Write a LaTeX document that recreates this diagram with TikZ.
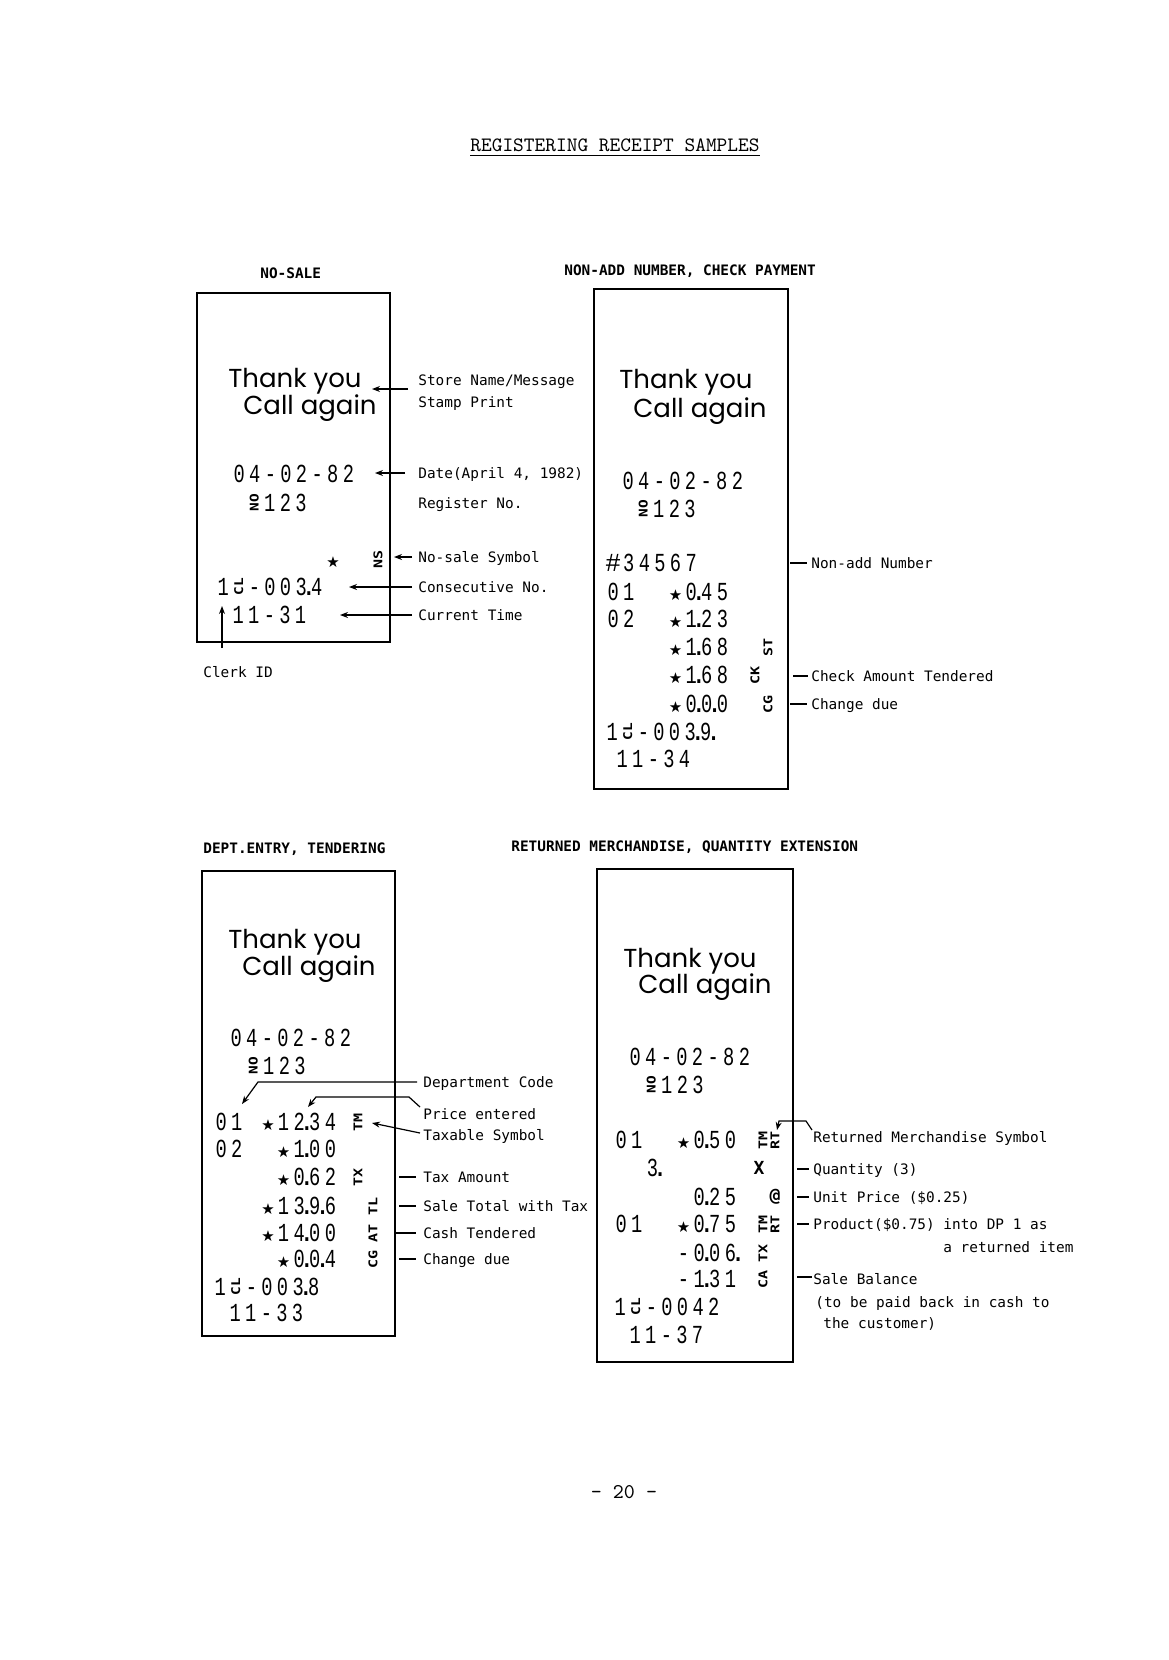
\documentclass[tikz,border=0pt]{standalone}
\usepackage{fontspec}
\usepackage{graphicx}
\usetikzlibrary{arrows.meta}
\newfontfamily\lblfont{DejaVu Sans Mono}
\newfontfamily\rcptfont{Liberation Mono}
\newfontfamily\symfont{DejaVu Sans}
\newfontfamily\greetfont{Poppins}
\newcommand\rstar{\makebox[7.8pt]{\symfont\fontsize{7.5}{8}\selectfont ★}}
\newcommand\dt{\makebox[0pt]{.}}
\newcommand\sk{\hspace*{7.8pt}}
\newcommand\rsym[1]{\makebox[7.8pt]{\rotatebox{90}{\scalebox{1.2}[1]{\lblfont\bfseries\fontsize{6}{6}\selectfont #1}}}}
\newcommand\symNO{\rsym{NO}}
\newcommand\symCL{\rsym{CL}}
\newcommand\rs[1]{\scalebox{1.25}[1]{#1}}
% one fixed cell per character, glyphs condensed
\def\rcells#1{\rcellsA#1\relax}
\def\rcellsA#1{\ifx\relax#1\else\rcellsB{#1}\expandafter\rcellsA\fi}
\def\rcellsB#1{\ifcat\relax\noexpand#1#1\else\makebox[7.8pt]{\scalebox{0.72}[1]{#1}}\fi}
\tikzset{
  boxline/.style={line width=1pt},
  lbl/.style={font=\lblfont\fontsize{7.2}{8}\selectfont, anchor=west, inner sep=0, text height=5.2pt, text depth=0pt},
  hdg/.style={font=\lblfont\bfseries\fontsize{7.2}{8}\selectfont, anchor=west, inner sep=0, text height=5.2pt, text depth=0pt},
  rrow/.style={font=\rcptfont\fontsize{13}{13}\selectfont, anchor=west, inner sep=0, text height=8.6pt, text depth=0pt},
  greet/.style={font=\greetfont\fontsize{13}{13}\selectfont, anchor=base west, inner sep=0},
  rsy/.style={font=\lblfont\bfseries\fontsize{6}{6}\selectfont, rotate=90, inner sep=0, anchor=center},
  usy/.style={font=\lblfont\bfseries\fontsize{9}{9}\selectfont, inner sep=0, anchor=center},
  conn/.style={line width=0.6pt},
  arr/.style={conn, -{Stealth[length=4pt,width=3pt]}},
}
\begin{document}
\begin{tikzpicture}[x=0.5pt,y=-0.5pt]
\fill[white] (0,0) rectangle (1168,1660);
\useasboundingbox (0,0) rectangle (1168,1660);

% title
\node[font=\ttfamily\fontsize{10.2}{12}\selectfont, anchor=base west, inner sep=0] (ttl) at (470,151) {REGISTERING RECEIPT SAMPLES};
\draw[line width=0.8pt] ([yshift=-2.2pt]ttl.base west) -- ([yshift=-2.2pt]ttl.base east);

% headings
\node[hdg] (h1) at (260,273) {NO-SALE};
\node[hdg] (h2) at (564,270) {NON-ADD NUMBER, CHECK PAYMENT};
\node[hdg] (h3) at (203,848) {DEPT.ENTRY, TENDERING};
\node[hdg] (h4) at (511,846) {RETURNED MERCHANDISE, QUANTITY EXTENSION};

% ---------------- receipt 1
\draw[boxline] (197,293) rectangle (390,642);
\node[greet] (r1ty) at (228,387) {Thank you};
\node[greet] (r1ca) at (243,414) {Call again};
\node[rrow] (r1date) at (231,474) {\rcells{04-02-82}};
\node[rrow] (r1reg) at (246,503) {\rcells{\symNO123}};
\node[rrow] (r1star) at (325,559) {\rstar};
\node[rsy] (r1ns) at (378,559) {\rs{NS}};
\node[rrow] (r1cons) at (215,587) {\rcells{1\symCL-003\dt4}};
\node[rrow] (r1time) at (230,615) {\rcells{11-31}};

\node[lbl] (l1a) at (418,380) {Store Name/Message};
\node[lbl] (l1b) at (418,402) {Stamp Print};
\node[lbl] (l1c) at (418,473) {Date(April 4, 1982)};
\node[lbl] (l1d) at (418,503) {Register No.};
\node[lbl] (l1e) at (418,557) {No-sale Symbol};
\node[lbl] (l1f) at (418,587) {Consecutive No.};
\node[lbl] (l1g) at (418,615) {Current Time};
\node[lbl] (l1h) at (203,672) {Clerk ID};

\coordinate (a1s) at (408,389); \coordinate (a1t) at (372,389);
\coordinate (a2s) at (405,473); \coordinate (a2t) at (375,473);
\coordinate (a3s) at (412,557); \coordinate (a3t) at (394,557);
\coordinate (a4s) at (412,587); \coordinate (a4t) at (349,587);
\coordinate (a5s) at (412,615); \coordinate (a5t) at (340,615);
\coordinate (a6s) at (222,648); \coordinate (a6t) at (222,606);
\draw[arr] (a1s) -- (a1t);
\draw[arr] (a2s) -- (a2t);
\draw[arr] (a3s) -- (a3t);
\draw[arr] (a4s) -- (a4t);
\draw[arr] (a5s) -- (a5t);
\draw[arr] (a6s) -- (a6t);

% ---------------- receipt 2
\draw[boxline] (594,289) rectangle (788,789);
\node[greet] (r2ty) at (619,388) {Thank you};
\node[greet] (r2ca) at (633,417) {Call again};
\node[rrow] (r2date) at (620,481) {\rcells{04-02-82}};
\node[rrow] (r2reg) at (635,509) {\rcells{\symNO123}};
\node[rrow] (r2num) at (605,563) {\rcells{\#34567}};
\node[rrow] (r2a) at (605,592) {\rcells{01\sk\sk\rstar0\dt45}};
\node[rrow] (r2b) at (605,619) {\rcells{02\sk\sk\rstar1\dt23}};
\node[rrow] (r2c) at (605,647) {\rcells{\sk\sk\sk\sk\rstar1\dt68}};
\node[rrow] (r2d) at (605,675) {\rcells{\sk\sk\sk\sk\rstar1\dt68}};
\node[rrow] (r2e) at (605,704) {\rcells{\sk\sk\sk\sk\rstar0\dt0\dt0}};
\node[rsy] (r2st) at (768,647) {\rs{ST}};
\node[rsy] (r2ck) at (755,675) {\rs{CK}};
\node[rsy] (r2cg) at (768,704) {\rs{CG}};
\node[rrow] (r2cons) at (604,732) {\rcells{1\symCL-003\dt9\dt}};
\node[rrow] (r2time) at (614,759) {\rcells{11-34}};

\node[lbl] (l2a) at (811,563) {Non-add Number};
\node[lbl] (l2b) at (811,676) {Check Amount Tendered};
\node[lbl] (l2c) at (811,704) {Change due};
\coordinate (b1s) at (790,563); \coordinate (b1t) at (807,563);
\coordinate (b2s) at (793,676); \coordinate (b2t) at (808,676);
\coordinate (b3s) at (790,704); \coordinate (b3t) at (807,704);
\draw[conn] (b1s) -- (b1t);
\draw[conn] (b2s) -- (b2t);
\draw[conn] (b3s) -- (b3t);

% ---------------- receipt 3
\draw[boxline] (202,871) rectangle (395,1336);
\node[greet] (r3ty) at (228,948) {Thank you};
\node[greet] (r3ca) at (242,975) {Call again};
\node[rrow] (r3date) at (228,1038) {\rcells{04-02-82}};
\node[rrow] (r3reg) at (245,1066) {\rcells{\symNO123}};
\node[rrow] (r3a) at (213,1122) {\rcells{01\sk\rstar12\dt34}};
\node[rrow] (r3b) at (213,1149) {\rcells{02\sk\sk\rstar1\dt00}};
\node[rrow] (r3c) at (213,1177) {\rcells{\sk\sk\sk\sk\rstar0\dt62}};
\node[rrow] (r3d) at (213,1206) {\rcells{\sk\sk\sk\rstar13\dt9\dt6}};
\node[rrow] (r3e) at (213,1233) {\rcells{\sk\sk\sk\rstar14\dt00}};
\node[rrow] (r3f) at (213,1259) {\rcells{\sk\sk\sk\sk\rstar0\dt0\dt4}};
\node[rsy] (r3tm) at (358,1122) {\rs{TM}};
\node[rsy] (r3tx) at (358,1177) {\rs{TX}};
\node[rsy] (r3tl) at (373,1206) {\rs{TL}};
\node[rsy] (r3at) at (373,1233) {\rs{AT}};
\node[rsy] (r3cg) at (373,1259) {\rs{CG}};
\node[rrow] (r3cons) at (212,1287) {\rcells{1\symCL-003\dt8}};
\node[rrow] (r3time) at (227,1313) {\rcells{11-33}};

\node[lbl] (l3a) at (423,1082) {Department Code};
\node[lbl] (l3b) at (423,1114) {Price entered};
\node[lbl] (l3c) at (423,1135) {Taxable Symbol};
\node[lbl] (l3d) at (423,1177) {Tax Amount};
\node[lbl] (l3e) at (423,1206) {Sale Total with Tax};
\node[lbl] (l3f) at (423,1233) {Cash Tendered};
\node[lbl] (l3g) at (423,1259) {Change due};

\coordinate (dc1) at (417,1082); \coordinate (dc2) at (258,1082); \coordinate (dc3) at (242,1104);
\draw[arr] (dc1) -- (dc2) -- (dc3);
\coordinate (pe1) at (420,1107); \coordinate (pe2) at (409,1097); \coordinate (pe3) at (316,1097); \coordinate (pe4) at (308,1107);
\draw[arr] (pe1) -- (pe2) -- (pe3) -- (pe4);
\coordinate (ts1) at (420,1133); \coordinate (ts2) at (372,1123);
\draw[arr] (ts1) -- (ts2);
\coordinate (c1s) at (399,1177); \coordinate (c1t) at (416,1177);
\coordinate (c2s) at (399,1206); \coordinate (c2t) at (416,1206);
\coordinate (c3s) at (396,1233); \coordinate (c3t) at (416,1233);
\coordinate (c4s) at (399,1259); \coordinate (c4t) at (416,1259);
\draw[conn] (c1s) -- (c1t);
\draw[conn] (c2s) -- (c2t);
\draw[conn] (c3s) -- (c3t);
\draw[conn] (c4s) -- (c4t);

% ---------------- receipt 4
\draw[boxline] (597,869) rectangle (793,1362);
\node[greet] (r4ty) at (623,967) {Thank you};
\node[greet] (r4ca) at (638,993) {Call again};
\node[rrow] (r4date) at (627,1057) {\rcells{04-02-82}};
\node[rrow] (r4reg) at (643,1085) {\rcells{\symNO123}};
\node[rrow] (r4a) at (613,1140) {\rcells{01\sk\sk\rstar0\dt50}};
\node[rrow] (r4b) at (613,1168) {\rcells{\sk\sk3\dt}};
\node[rrow] (r4c) at (613,1197) {\rcells{\sk\sk\sk\sk\sk0\dt25}};
\node[rrow] (r4d) at (613,1224) {\rcells{01\sk\sk\rstar0\dt75}};
\node[rrow] (r4e) at (613,1253) {\rcells{\sk\sk\sk\sk-0\dt06\dt}};
\node[rrow] (r4f) at (613,1279) {\rcells{\sk\sk\sk\sk-1\dt31}};
\node[rsy] (r4tm1) at (763,1140) {\rs{TM}};
\node[rsy] (r4rt1) at (775,1140) {\rs{RT}};
\node[usy] (r4x) at (759,1168) {X};
\node[usy] (r4at) at (775,1197) {@};
\node[rsy] (r4tm2) at (763,1224) {\rs{TM}};
\node[rsy] (r4rt2) at (775,1224) {\rs{RT}};
\node[rsy] (r4tx) at (763,1253) {\rs{TX}};
\node[rsy] (r4ca2) at (763,1279) {\rs{CA}};
\node[rrow] (r4cons) at (612,1307) {\rcells{1\symCL-0042}};
\node[rrow] (r4time) at (627,1335) {\rcells{11-37}};

\node[lbl] (l4a) at (813,1137) {Returned Merchandise Symbol};
\node[lbl] (l4b) at (813,1169) {Quantity (3)};
\node[lbl] (l4c) at (813,1197) {Unit Price (\$0.25)};
\node[lbl] (l4d) at (813,1224) {Product(\$0.75) into DP 1 as};
\node[lbl] (l4e) at (943,1247) {a returned item};
\node[lbl] (l4f) at (813,1279) {Sale Balance};
\node[lbl] (l4g) at (815,1302) {(to be paid back in cash to};
\node[lbl] (l4h) at (823,1323) {the customer)};

\coordinate (rm1) at (812,1130); \coordinate (rm2) at (806,1121); \coordinate (rm3) at (779,1121); \coordinate (rm4) at (777,1130);
\draw[arr] (rm1) -- (rm2) -- (rm3) -- (rm4);
\coordinate (d1s) at (797,1169); \coordinate (d1t) at (809,1169);
\coordinate (d2s) at (797,1197); \coordinate (d2t) at (809,1197);
\coordinate (d3s) at (797,1224); \coordinate (d3t) at (809,1224);
\coordinate (d4s) at (797,1277); \coordinate (d4t) at (812,1277);
\draw[conn] (d1s) -- (d1t);
\draw[conn] (d2s) -- (d2t);
\draw[conn] (d3s) -- (d3t);
\draw[conn] (d4s) -- (d4t);

% page number
\node[font=\ttfamily\fontsize{10.5}{12}\selectfont, inner sep=0] (pg) at (624,1492) {– 20 –};
\end{tikzpicture}
\end{document}
